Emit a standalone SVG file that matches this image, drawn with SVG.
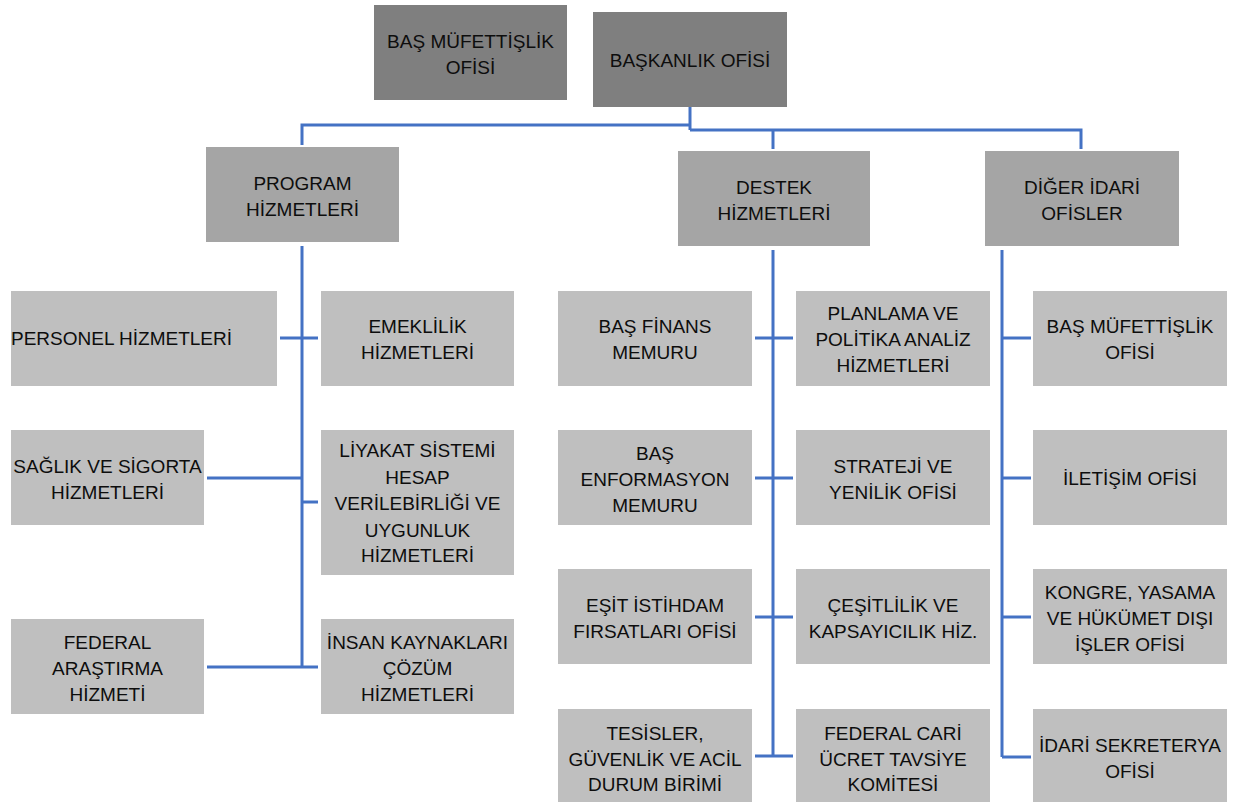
<svg xmlns="http://www.w3.org/2000/svg" width="1239" height="802" viewBox="0 0 1239 802">
<style>
.top{fill:#7f7f7f}
.mid{fill:#a5a5a5}
.leaf{fill:#bfbfbf}
text{font-family:"Liberation Sans",Arial,sans-serif;font-size:19px;fill:#0d0d0d;text-anchor:middle}
.conn path{fill:none;stroke:#4472c4;stroke-width:3}
</style>
<rect width="1239" height="802" fill="#ffffff"/>
<g class="conn" id="connectors">
<path d="M690,107 V130"/>
<path d="M302,145 V125 H690"/>
<path d="M690,130 H1081 V149"/>
<path d="M773,130 V149"/>
<path d="M302,246 V667"/>
<path d="M280,338 H318"/>
<path d="M207,478 H302"/>
<path d="M302,502 H318"/>
<path d="M207,667 H318"/>
<path d="M773,250 V756"/>
<path d="M755,338 H793"/>
<path d="M755,478 H793"/>
<path d="M755,617 H793"/>
<path d="M755,756 H793"/>
<path d="M1002,250 V757"/>
<path d="M1002,338 H1031"/>
<path d="M1002,478 H1031"/>
<path d="M1002,617 H1031"/>
<path d="M1002,757 H1031"/>
</g>
<g id="bas-mufettislik-top"><rect class="top" x="374" y="5" width="193" height="95"/><text x="470.5" y="48">BAŞ MÜFETTİŞLİK</text><text x="470.5" y="74">OFİSİ</text></g>
<g id="baskanlik"><rect class="top" x="593" y="12" width="194" height="95"/><text x="690" y="67">BAŞKANLIK OFİSİ</text></g>
<g id="program"><rect class="mid" x="206" y="147" width="193" height="95"/><text x="302.5" y="189.5">PROGRAM</text><text x="302.5" y="215.5">HİZMETLERİ</text></g>
<g id="destek"><rect class="mid" x="678" y="151" width="192" height="95"/><text x="774" y="193.5">DESTEK</text><text x="774" y="219.5">HİZMETLERİ</text></g>
<g id="diger"><rect class="mid" x="985" y="151" width="194" height="95"/><text x="1082" y="193.5">DİĞER İDARİ</text><text x="1082" y="219.5">OFİSLER</text></g>

<g id="personel"><rect class="leaf" x="11" y="291" width="266" height="95"/><text x="11" y="345" style="text-anchor:start">PERSONEL HİZMETLERİ</text></g>
<g id="emeklilik"><rect class="leaf" x="321" y="291" width="193" height="95"/><text x="417.5" y="333">EMEKLİLİK</text><text x="417.5" y="359">HİZMETLERİ</text></g>
<g id="saglik"><rect class="leaf" x="11" y="430" width="193" height="95"/><text x="107.5" y="472.5">SAĞLIK VE SİGORTA</text><text x="107.5" y="498.5">HİZMETLERİ</text></g>
<g id="liyakat"><rect class="leaf" x="321" y="430" width="193" height="145"/><text x="417.5" y="457">LİYAKAT SİSTEMİ</text><text x="417.5" y="483.5">HESAP</text><text x="417.5" y="510">VERİLEBİRLİĞİ VE</text><text x="417.5" y="536.5">UYGUNLUK</text><text x="417.5" y="562">HİZMETLERİ</text></g>
<g id="federal-arastirma"><rect class="leaf" x="11" y="619" width="193" height="95"/><text x="107.5" y="649">FEDERAL</text><text x="107.5" y="675">ARAŞTIRMA</text><text x="107.5" y="701">HİZMETİ</text></g>
<g id="insan-kaynaklari"><rect class="leaf" x="321" y="619" width="193" height="95"/><text x="417.5" y="649">İNSAN KAYNAKLARI</text><text x="417.5" y="675">ÇÖZÜM</text><text x="417.5" y="701">HİZMETLERİ</text></g>

<g id="bas-finans"><rect class="leaf" x="558" y="291" width="194" height="95"/><text x="655" y="333">BAŞ FİNANS</text><text x="655" y="359">MEMURU</text></g>
<g id="planlama"><rect class="leaf" x="796" y="291" width="194" height="95"/><text x="893" y="320">PLANLAMA VE</text><text x="893" y="346">POLİTİKA ANALİZ</text><text x="893" y="372">HİZMETLERİ</text></g>
<g id="bas-enformasyon"><rect class="leaf" x="558" y="430" width="194" height="95"/><text x="655" y="460">BAŞ</text><text x="655" y="486">ENFORMASYON</text><text x="655" y="512">MEMURU</text></g>
<g id="strateji"><rect class="leaf" x="796" y="430" width="194" height="95"/><text x="893" y="472.5">STRATEJİ VE</text><text x="893" y="498.5">YENİLİK OFİSİ</text></g>
<g id="esit"><rect class="leaf" x="558" y="569" width="194" height="95"/><text x="655" y="611.5">EŞİT İSTİHDAM</text><text x="655" y="637.5">FIRSATLARI OFİSİ</text></g>
<g id="cesitlilik"><rect class="leaf" x="796" y="569" width="194" height="95"/><text x="893" y="611.5">ÇEŞİTLİLİK VE</text><text x="893" y="637.5">KAPSAYICILIK HİZ.</text></g>
<g id="tesisler"><rect class="leaf" x="558" y="709" width="194" height="95"/><text x="655" y="739.5">TESİSLER,</text><text x="655" y="765.5">GÜVENLİK VE ACİL</text><text x="655" y="791">DURUM BİRİMİ</text></g>
<g id="federal-cari"><rect class="leaf" x="796" y="709" width="194" height="95"/><text x="893" y="739.5">FEDERAL CARİ</text><text x="893" y="765.5">ÜCRET TAVSİYE</text><text x="893" y="791">KOMİTESİ</text></g>

<g id="bas-mufettislik"><rect class="leaf" x="1033" y="291" width="194" height="95"/><text x="1130" y="333">BAŞ MÜFETTİŞLİK</text><text x="1130" y="359">OFİSİ</text></g>
<g id="iletisim"><rect class="leaf" x="1033" y="430" width="194" height="95"/><text x="1130" y="485">İLETİŞİM OFİSİ</text></g>
<g id="kongre"><rect class="leaf" x="1033" y="569" width="194" height="95"/><text x="1130" y="598.5">KONGRE, YASAMA</text><text x="1130" y="624.5">VE HÜKÜMET DIŞI</text><text x="1130" y="650.5">İŞLER OFİSİ</text></g>
<g id="idari-sekreterya"><rect class="leaf" x="1033" y="709" width="194" height="95"/><text x="1130" y="752">İDARİ SEKRETERYA</text><text x="1130" y="778">OFİSİ</text></g>
</svg>
